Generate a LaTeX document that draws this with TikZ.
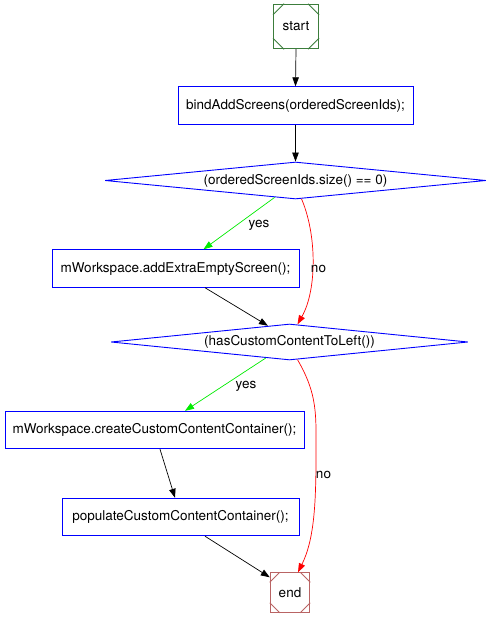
\documentclass[tikz,border=0pt]{standalone}
\usepackage{fontspec}
\setmainfont{TeX Gyre Heros}
\usetikzlibrary{shapes.geometric,arrows.meta,calc}
\definecolor{startgreen}{RGB}{60,125,60}
\definecolor{endred}{RGB}{185,100,100}
\definecolor{edgegreen}{RGB}{0,235,0}
\begin{document}
\begin{tikzpicture}[x=1pt,y=1pt,
  every node/.style={font=\fontsize{13.5}{16}\selectfont, inner sep=0pt},
  proc/.style={draw=blue, line width=0.9pt, rectangle, minimum height=37.5pt},
  cond/.style={draw=blue, line width=0.9pt, diamond, aspect=10},
  msq/.style={draw, line width=0.9pt, rectangle},
  arr/.style={-{Triangle[length=9pt,width=6.5pt]}, line width=0.7pt},
  yesedge/.style={arr, draw=edgegreen},
  noedge/.style={arr, draw=red},
  plain/.style={arr, draw=black},
  lbl/.style={fill=none, draw=none}
]
\useasboundingbox (0,0) rectangle (491,-618);

\node[msq, draw=startgreen, minimum width=45pt, minimum height=44.5pt] (start) at (296,-26.5) {start};
\node[proc, minimum width=235pt] (bind) at (295.5,-105.5) {bindAddScreens(orderedScreenIds);};
\node[cond, minimum width=381pt, minimum height=37pt] (d1) at (295.5,-180.5) {(orderedScreenIds.size() == 0)};
\node[proc, minimum width=247pt] (extra) at (175.5,-268.5) {mWorkspace.addExtraEmptyScreen();};
\node[cond, minimum width=357pt, minimum height=36pt] (d2) at (289.5,-342) {(hasCustomContentToLeft())};
\node[proc, minimum width=299pt] (create) at (154.5,-430) {mWorkspace.createCustomContentContainer();};
\node[proc, minimum width=237pt] (populate) at (180.5,-517) {populateCustomContentContainer();};
\node[msq, draw=endred, minimum width=39.5pt, minimum height=39.5pt] (stop) at (290,-592.5) {end};

% corner ticks of the Msquare nodes
\foreach \n/\c/\k in {start/startgreen/11, stop/endred/10}{
  \draw[\c, line width=0.9pt]
    ($(\n.north west)+(0,-\k)$) -- ($(\n.north west)+(\k,0)$)
    ($(\n.north east)+(0,-\k)$) -- ($(\n.north east)+(-\k,0)$)
    ($(\n.south west)+(0,\k)$) -- ($(\n.south west)+(\k,0)$)
    ($(\n.south east)+(0,\k)$) -- ($(\n.south east)+(-\k,0)$);
}

% edges
\draw[plain] (start.south) -- (bind.north);
\draw[plain] (bind.south) -- (d1.north);
\draw[yesedge] (d1.219.5) -- ($(extra.north)+(28,0)$);
\node[lbl] (y1) at (259,-225) {yes};
\draw[noedge] ($(d1.south)+(6,0.6)$) .. controls (317,-235) and (317,-290) .. ($(d2.north)+(8,-0.8)$);
\node[lbl] (n1) at (318.5,-269) {no};
\draw[plain] ($(extra.south)+(29.5,0)$) -- (d2.143);
\draw[yesedge] (d2.214) -- ($(create.north)+(30.5,0)$);
\node[lbl] (y2) at (246,-386) {yes};
\draw[noedge] ($(d2.south)+(8,0.8)$) .. controls (318,-395) and (316,-415) .. (316,-455)
  .. controls (316,-505) and (314,-540) .. ($(stop.north)+(8,0)$);
\node[lbl] (n2) at (323.5,-475) {no};
\draw[plain] ($(create.south)+(5.5,0)$) -- ($(populate.north)+(-5.5,0)$);
\draw[plain] ($(populate.south)+(24.5,0)$) -- ($(stop.north west)+(0,-5)$);
\end{tikzpicture}
\end{document}
